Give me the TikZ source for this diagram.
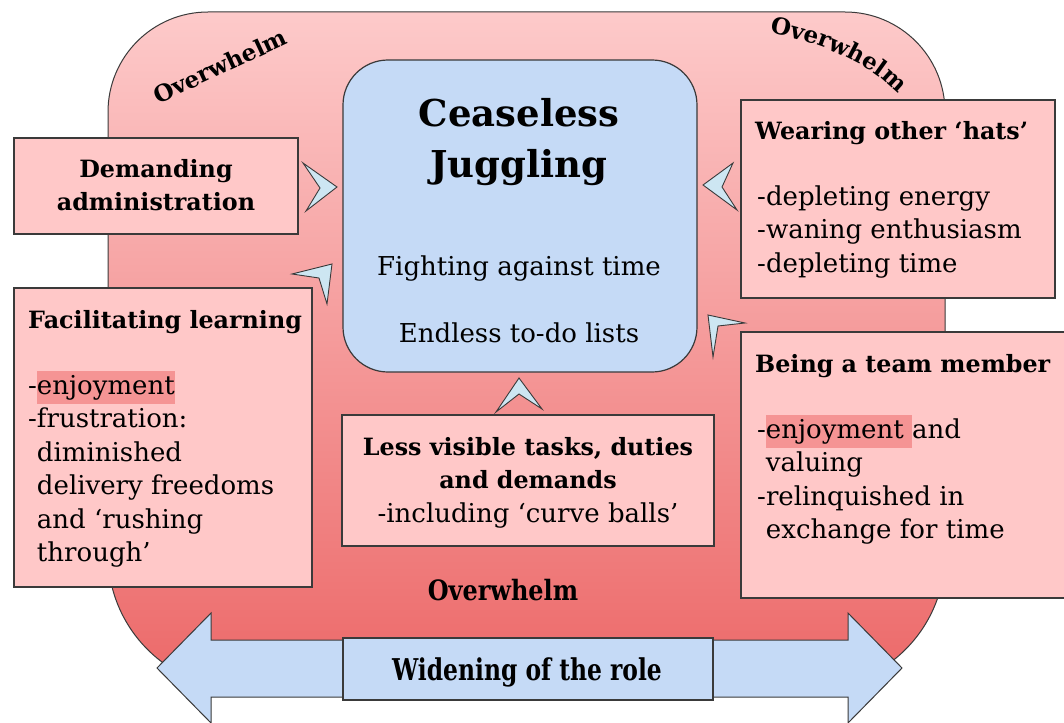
\documentclass[tikz,border=0pt]{standalone}
\usepackage{fontspec}
\usepackage{graphicx}
\setmainfont{DejaVu Serif}
\usetikzlibrary{decorations.text}
\definecolor{boxpink}{HTML}{FFC8C8}
\definecolor{bigtop}{HTML}{FDCACA}
\definecolor{bigbot}{HTML}{EC6868}
\definecolor{juggle}{HTML}{C5DAF6}
\definecolor{edge}{HTML}{3A3A3A}
\definecolor{hlred}{HTML}{F59494}
\definecolor{chev}{HTML}{CDE6F2}
\newcommand\hlword[1]{{\setlength\fboxsep{0pt}\colorbox{hlred}{\strut #1}}}
\newcommand\ttlf{\bfseries\fontsize{23.8}{33.5}\selectfont}
\newcommand\bdyf{\fontsize{26}{33.5}\selectfont}
\newcommand\jugf{\bfseries\fontsize{37}{50}\selectfont}
\newcommand\ovf{\bfseries\fontsize{23}{26}\selectfont}
\tikzset{
  pinkbox/.style={draw=edge, fill=boxpink, line width=1.2pt, inner sep=0pt},
  chevron/.style={draw=edge, fill=chev, line width=0.9pt, line join=miter},
  txt/.style={inner sep=0pt, align=left, anchor=base west}
}
\begin{document}
\begin{tikzpicture}[x=1pt,y=1pt]
\useasboundingbox (0,0) rectangle (1064,-722);
\clip (0,0) rectangle (1064,-722);
\fill[white] (0,0) rectangle (1064,-722);
% big overwhelm field
\draw[draw=edge, line width=1pt, top color=bigtop, bottom color=bigbot]
  (108,-112) arc[start angle=180, end angle=90, radius=100pt] -- (845,-12)
  arc[start angle=90, end angle=0, radius=100pt] -- (945,-554)
  arc[start angle=0, end angle=-90, radius=135pt] -- (243,-689)
  arc[start angle=270, end angle=180, radius=135pt] -- cycle;
% overwhelm labels
\node[font=\ovf, rotate=25] (owA) at (220,-66) {Overwhelm};
\coordinate (owS) at (754,-30);
\coordinate (owE) at (908,-106);
\path[decorate, decoration={text along path, text={|\ovf|Overwhelm}, text align=center}]
  (owS) .. controls (806,-38) and (876,-60) .. (owE);
\node[font=\bfseries\fontsize{28}{30}\selectfont, anchor=base] (owC) at (503,-600) {\scalebox{0.855}[1]{Overwhelm}};
% central box
\node[draw=edge, fill=juggle, line width=1.2pt, rounded corners=45pt,
      minimum width=354pt, minimum height=312pt, inner sep=0pt] (jug) at (520,-216) {};
\node[font=\jugf, anchor=base] (c1) at (519,-127) {Ceaseless};
\node[font=\jugf, anchor=base] (c2) at (519,-177) {Juggling};
\node[font=\bdyf, anchor=base] (c3) at (519,-275) {Fighting against time};
\node[font=\bdyf, anchor=base] (c4) at (519,-342) {Endless to-do lists};
% side boxes
\node[pinkbox, minimum width=284pt, minimum height=96pt] (admin) at (156,-186) {};
\node[font=\ttlf, anchor=base] (a1) at (156,-177) {Demanding};
\node[font=\ttlf, anchor=base] (a2) at (156,-210) {administration};

\node[pinkbox, minimum width=298pt, minimum height=299pt] (facil) at (163,-437.5) {};
\node[txt, font=\ttlf] (f1) at (28,-328) {Facilitating learning};
\node[txt, font=\bdyf] (f2) at (28,-561.5) {-\hlword{enjoyment}\\-frustration:\\\phantom{-}diminished\\\phantom{-}delivery freedoms\\\phantom{-}and ‘rushing\\\phantom{-}through’};

\node[pinkbox, minimum width=314pt, minimum height=198pt] (hats) at (898,-199) {};
\node[txt, font=\ttlf] (h1) at (755,-140) {Wearing other ‘hats’};
\node[txt, font=\bdyf] (h2) at (757,-272) {-depleting energy\\-waning enthusiasm\\-depleting time};

\node[pinkbox, minimum width=329pt, minimum height=266pt] (team) at (905.5,-465) {};
\node[txt, font=\ttlf] (m1) at (755,-372) {Being a team member};
\node[txt, font=\bdyf] (m2) at (757,-538.5) {-\hlword{enjoyment }and\\\phantom{-}valuing\\-relinquished in\\\phantom{-}exchange for time};

\node[pinkbox, minimum width=372pt, minimum height=131pt] (less) at (528,-480.5) {};
\node[font=\ttlf, anchor=base] (l1) at (528,-455) {Less visible tasks, duties};
\node[font=\ttlf, anchor=base] (l2) at (528,-488) {and demands};
\node[font=\bdyf, anchor=base] (l3) at (528,-522) {-including ‘curve balls’};
% chevrons
\draw[chevron] (303,-163) -- (337,-187) -- (306,-211) -- (320,-188) -- cycle;
\draw[chevron] (292,-274) -- (332,-264) -- (327,-304) -- (319,-278) -- cycle;
\draw[chevron] (733,-163) -- (703,-185) -- (737,-210) -- (722,-187) -- cycle;
\draw[chevron] (745,-323) -- (708,-315) -- (713,-357) -- (718,-326) -- cycle;
\draw[chevron] (496,-412) -- (519,-378) -- (542,-409) -- (519,-394) -- cycle;
% widening arrow
\draw[draw=edge, fill=juggle, line width=1pt, line join=miter]
  (157,-668) -- (211,-613) -- (211,-640) -- (848,-640) -- (848,-613) -- (902,-668)
  -- (848,-723) -- (848,-697) -- (211,-697) -- (211,-723) -- cycle;
\node[draw=edge, fill=juggle, line width=1.2pt, minimum width=370pt, minimum height=62pt,
      inner sep=0pt] (role) at (528,-669) {};
\node[font=\bfseries\fontsize{30}{32}\selectfont, anchor=base] (r1) at (527,-680)
      {\scalebox{0.78}[1]{Widening of the role}};
\end{tikzpicture}
\end{document}
